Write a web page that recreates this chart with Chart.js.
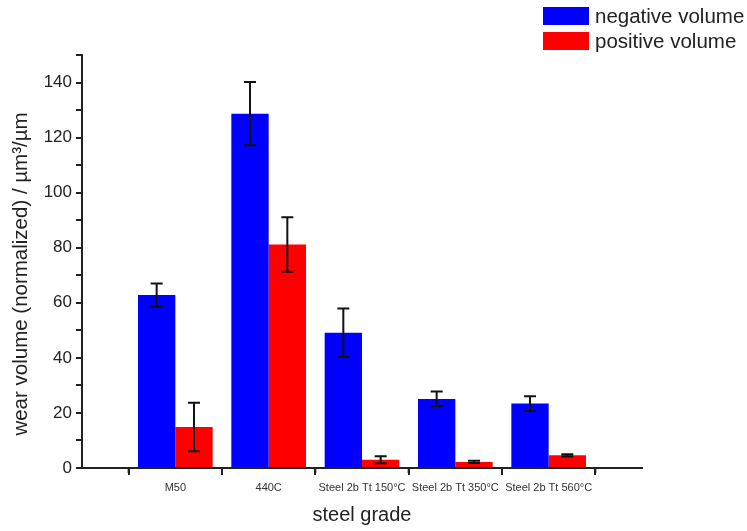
<!DOCTYPE html>
<html>
<head>
<meta charset="utf-8">
<script src="https://cdn.jsdelivr.net/npm/chart.js@4/dist/chart.umd.min.js"></script>
<style>
  body { margin: 0; background: #fff; }
  #wrap { width: 747px; height: 531px; }
</style>
</head>
<body>
<div id="wrap"><canvas id="chart" width="747" height="531"></canvas></div>
<script>
// data
const categories = ['M50', '440C', 'Steel 2b Tt 150°C', 'Steel 2b Tt 350°C', 'Steel 2b Tt 560°C'];
const negativeVolume = [62.8, 128.7, 49.1, 25.1, 23.4];
const negativeError = [4.2, 11.5, 8.8, 2.7, 2.7];
const positiveVolume = [14.9, 81.2, 3.0, 2.2, 4.6];
const positiveError = [8.8, 9.9, 1.3, 0.4, 0.4];
const yTicks = [0, 20, 40, 60, 80, 100, 120, 140];
const yTitle = 'wear volume (normalized) / µm³/µm';

const textColor = '#222';
const fontFamily = 'Arial, "Liberation Sans", sans-serif';

// empty slot at each end so the categories sit at 1..5 of 0..6
const pad = arr => [null, ...arr, null];

const errorBars = {
    id: 'errorBars',
    afterDatasetsDraw(chart) {
        const ctx = chart.ctx;
        const y = chart.scales.y;
        ctx.save();
        ctx.strokeStyle = '#111';
        ctx.lineWidth = 2;
        chart.data.datasets.forEach((ds, d) => {
            const meta = chart.getDatasetMeta(d);
            meta.data.forEach((bar, i) => {
                const v = ds.data[i];
                const e = ds.errors[i];
                if (v == null || e == null) return;
                const top = y.getPixelForValue(v + e);
                const bot = y.getPixelForValue(v - e);
                const half = 6;
                ctx.beginPath();
                ctx.moveTo(bar.x, top); ctx.lineTo(bar.x, bot);
                ctx.moveTo(bar.x - half, top); ctx.lineTo(bar.x + half, top);
                ctx.moveTo(bar.x - half, bot); ctx.lineTo(bar.x + half, bot);
                ctx.stroke();
            });
        });
        ctx.restore();
    }
};

const minorTicks = {
    id: 'minorTicks',
    afterDraw(chart) {
        const ctx = chart.ctx;
        const x = chart.scales.x;
        ctx.save();
        ctx.strokeStyle = textColor;
        ctx.lineWidth = 2;
        for (let i = 0; i < x.ticks.length - 1; i++) {
            const px = (x.getPixelForTick(i) + x.getPixelForTick(i + 1)) / 2;
            ctx.beginPath();
            ctx.moveTo(px, x.top);
            ctx.lineTo(px, x.top + 5);
            ctx.stroke();
        }
        ctx.restore();
    }
};

// y title sits a bit below the axis centre in the original
const sideTitle = {
    id: 'sideTitle',
    afterDraw(chart) {
        const ctx = chart.ctx;
        ctx.save();
        ctx.translate(21, 274);
        ctx.rotate(-Math.PI / 2);
        ctx.font = '20.5px ' + fontFamily;
        ctx.fillStyle = textColor;
        ctx.textAlign = 'center';
        ctx.textBaseline = 'middle';
        ctx.fillText(yTitle, 0, 0);
        ctx.restore();
    }
};

const boxLegend = {
    id: 'boxLegend',
    afterDraw(chart) {
        const ctx = chart.ctx;
        ctx.save();
        ctx.font = '20.5px ' + fontFamily;
        ctx.textBaseline = 'middle';
        chart.data.datasets.forEach((ds, i) => {
            const top = 7 + i * 25;
            ctx.fillStyle = ds.backgroundColor;
            ctx.fillRect(543, top, 46, 18);
            ctx.fillStyle = textColor;
            ctx.fillText(ds.label, 595, top + 10);
        });
        ctx.restore();
    }
};

new Chart(document.getElementById('chart'), {
    type: 'bar',
    data: {
        labels: ['', ...categories, ''],
        datasets: [
            {
                label: 'negative volume',
                data: pad(negativeVolume),
                errors: pad(negativeError),
                backgroundColor: '#0000ff'
            },
            {
                label: 'positive volume',
                data: pad(positiveVolume),
                errors: pad(positiveError),
                backgroundColor: '#ff0000'
            }
        ]
    },
    options: {
        responsive: false,
        animation: false,
        layout: { padding: { top: 55, right: 105, left: 0, bottom: 0 } },
        datasets: { bar: { categoryPercentage: 0.8, barPercentage: 1.0 } },
        plugins: {
            legend: { display: false },
            tooltip: { enabled: false }
        },
        scales: {
            x: {
                offset: false,
                afterFit: scale => { scale.height = 63; },
                border: { display: true, color: textColor, width: 2 },
                grid: { drawOnChartArea: false, drawTicks: true, tickLength: 7, color: textColor, lineWidth: 2 },
                ticks: {
                    autoSkip: false, maxRotation: 0, minRotation: 0, padding: 6,
                    color: '#333', font: { size: 11, family: fontFamily }
                },
                title: {
                    display: true, text: 'steel grade', color: textColor,
                    font: { size: 20, family: fontFamily }, padding: { top: 0, bottom: 4 }
                }
            },
            y: {
                min: 0,
                max: 150,
                afterFit: scale => { scale.width = 82; },
                border: { display: true, color: textColor, width: 2 },
                grid: { drawOnChartArea: false, drawTicks: true, tickLength: 6, color: textColor, lineWidth: 2 },
                ticks: {
                    stepSize: 10, padding: 4, color: textColor,
                    font: { size: 17, family: fontFamily },
                    callback: v => yTicks.includes(v) ? v : ''
                },
                title: { display: false }
            }
        }
    },
    plugins: [errorBars, minorTicks, sideTitle, boxLegend]
});
</script>
</body>
</html>
